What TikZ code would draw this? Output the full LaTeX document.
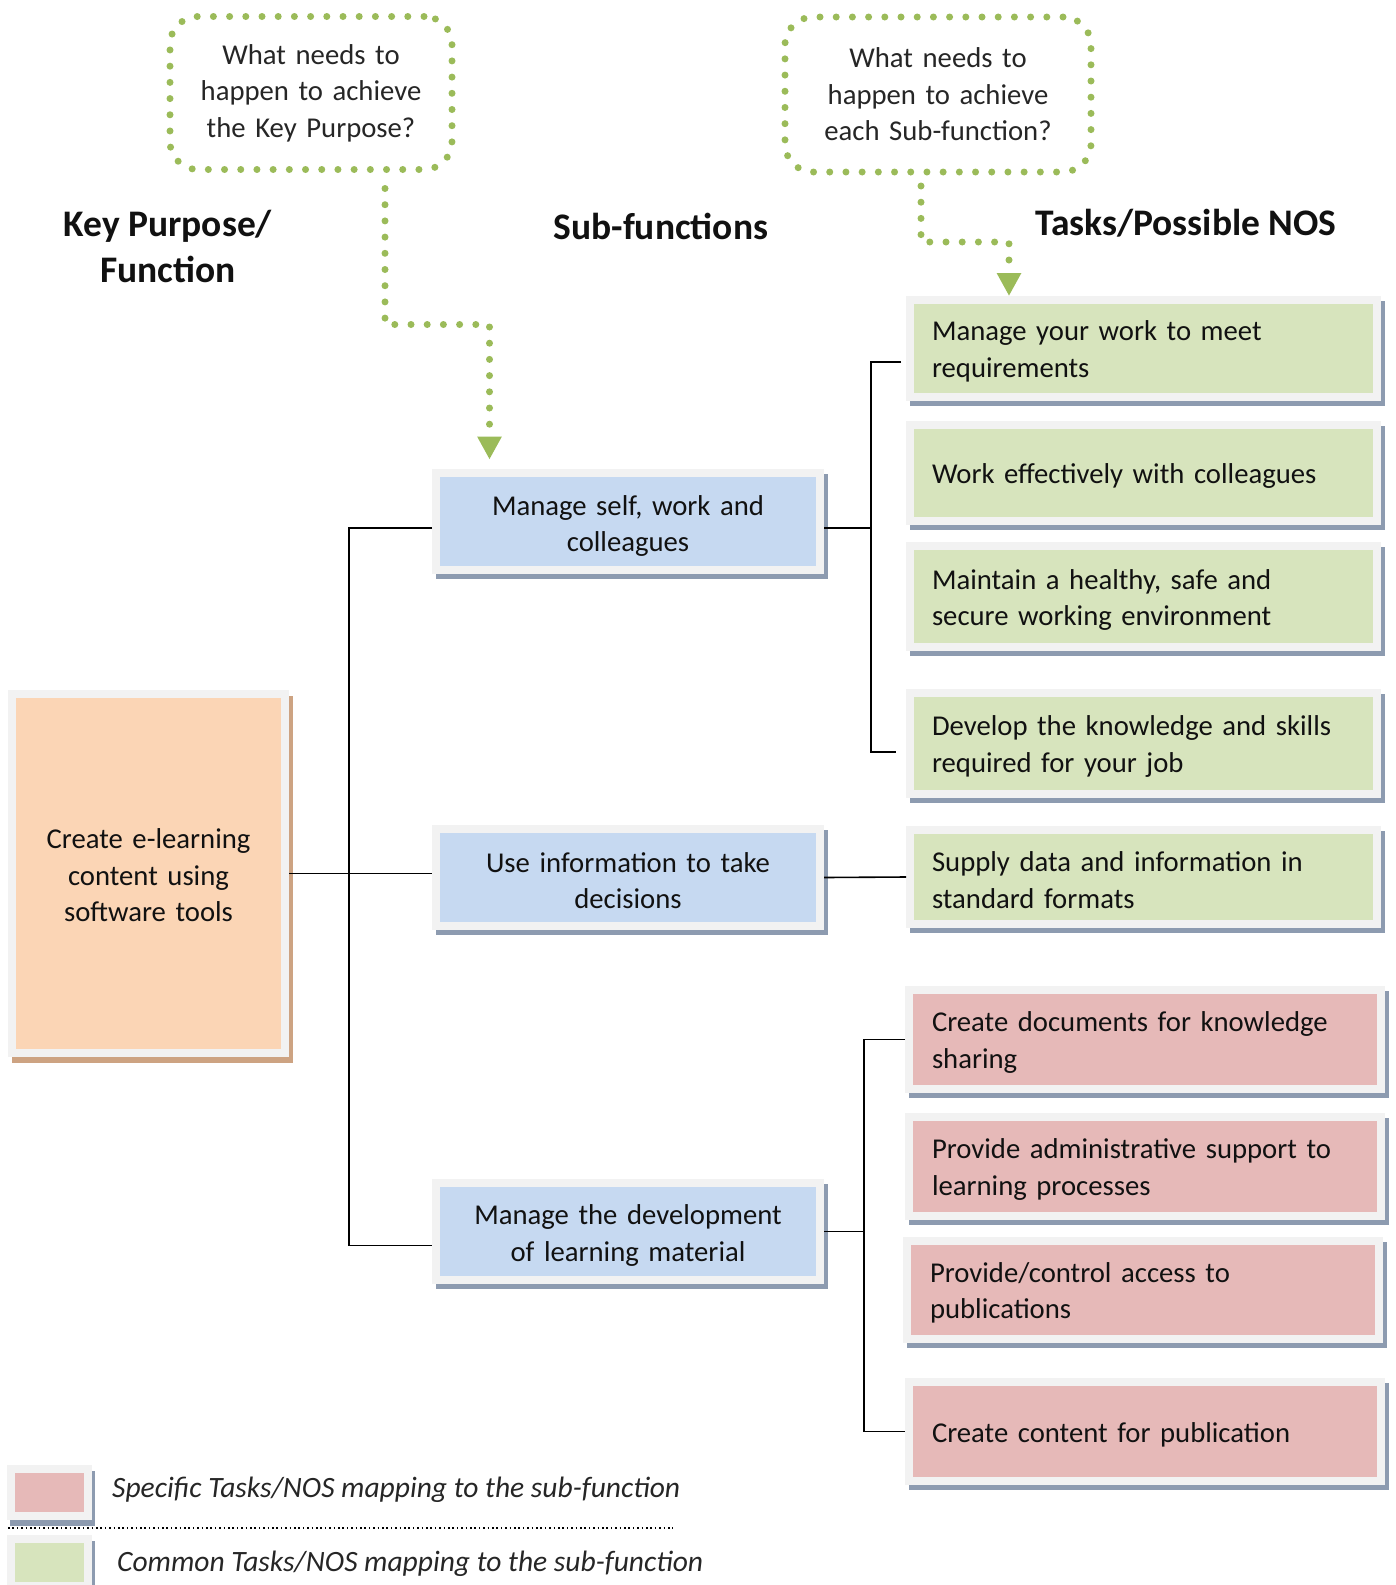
\documentclass[tikz,border=0pt]{standalone}
\usepackage{fontspec}
\setmainfont{Carlito}
\usetikzlibrary{arrows.meta,shadows}
\definecolor{cblue}{HTML}{C6D9F1}
\definecolor{cgreen}{HTML}{D7E4BD}
\definecolor{cred}{HTML}{E6B9B8}
\definecolor{corange}{HTML}{FBD5B5}
\definecolor{cframe}{HTML}{F2F2F2}
\definecolor{shblue}{HTML}{8D9BB0}
\definecolor{shtan}{HTML}{CDA382}
\definecolor{dotgreen}{HTML}{9BBB59}
\definecolor{txt}{HTML}{111111}
\definecolor{txtg}{HTML}{262626}
\newcommand\myBody{\fontsize{28.7}{36.4}\selectfont}
\newcommand\myHead{\fontsize{37.5}{46}\selectfont\bfseries}
\newcommand\myLeg{\fontsize{29.5}{36.4}\selectfont\itshape}
\newcommand\myLift[1]{\rule{0pt}{\dimexpr\fontcharht\font`l+#1\relax}}
\begin{document}
\begin{tikzpicture}[x=1pt,y=-1pt,
  cbox/.style={rectangle, fill=cframe, inner sep=0pt, outer sep=0pt, font=\myBody, text=txt},
  infill/.style={path picture={\fill[#1] ([shift={(8pt,-8pt)}]path picture bounding box.north west) rectangle ([shift={(-8pt,8pt)}]path picture bounding box.south east);}},
  bshadow/.style={general shadow={fill=#1, shadow xshift=4pt, shadow yshift=-5pt}},
  tdown/.style={execute at begin node={\myLift{#1}}},
  subbox/.style={cbox, infill=cblue, bshadow=shblue, minimum width=392pt, minimum height=105pt, text width=340pt, align=center, tdown=6pt},
  taskg/.style={cbox, infill=cgreen, bshadow=shblue, minimum width=475pt, inner xsep=26pt, text width=423pt, align=left, tdown=6pt},
  taskr/.style={cbox, infill=cred, bshadow=shblue, minimum width=480pt, inner xsep=27pt, text width=426pt, align=left, tdown=6pt},
  qbox/.style={rectangle, draw=dotgreen, line width=7pt, line cap=round, dash pattern=on 0pt off 16.2pt, rounded corners=28pt, inner sep=0pt, outer sep=0pt, text width=270pt, align=center, font=\myBody, text=txtg},
  dotconn/.style={draw=dotgreen, line width=7pt, line cap=round, dash pattern=on 0pt off 16.2pt, -{Triangle[width=23pt,length=23pt]}},
  conn/.style={draw=black, line width=1.6pt},
  head/.style={font=\myHead, text=txt, align=center, inner sep=0pt}
]
\useasboundingbox (0,0) rectangle (1395,1585);
\fill[white] (0,0) rectangle (1395,1585);

% callouts
\node[qbox, minimum width=282pt, minimum height=153pt] (q1) at (311,93) {What needs to\\happen to achieve\\the Key Purpose?};
\node[qbox, minimum width=306pt, minimum height=155pt] (q2) at (938,94.5) {What needs to\\happen to achieve\\each Sub-function?};

% headings
\node[head] (h1) at (168,246) {Key Purpose/\\Function};
\node[head] (h2) at (661,226) {Sub-functions};
\node[head] (h3) at (1186,223) {Tasks/Possible NOS};

% key purpose
\node[cbox, infill=corange, general shadow={fill=shtan, shadow xshift=4pt, shadow yshift=-6pt}, minimum width=281pt, minimum height=367pt, text width=240pt, align=center, tdown=4pt] (key) at (148.5,873.5) {Create e-learning\\content using\\software tools};

% sub-functions
\node[subbox, tdown=10pt] (sub1) at (628,521) {Manage self, work and\\colleagues};
\node[subbox, tdown=4pt] (sub2) at (628,877.5) {Use information to take\\decisions};
\node[subbox, tdown=8pt] (sub3) at (628,1231.5) {Manage the development\\of learning material};

% tasks
\node[taskg, minimum height=105pt] (g1) at (1143.5,348.5) {Manage your work to meet\\requirements};
\node[taskg, minimum height=104pt] (g2) at (1143.5,473) {Work effectively with colleagues};
\node[taskg, minimum height=109pt, tdown=7pt] (g3) at (1143.5,596.5) {Maintain a healthy, safe and\\secure working environment};
\node[taskg, minimum height=109pt, tdown=4pt] (g4) at (1143.5,743.5) {Develop the knowledge and skills\\required for your job};
\node[taskg, minimum height=102pt] (g5) at (1143.5,877) {Supply data and information in\\standard formats};
\node[taskr, minimum height=107pt] (r1) at (1145,1039.5) {Create documents for knowledge\\sharing};
\node[taskr, minimum height=107pt] (r2) at (1145,1166.5) {Provide administrative support to\\learning processes};
\node[taskr, minimum height=106pt] (r3) at (1143,1290) {Provide/control access to\\publications};
\node[taskr, minimum height=107pt] (r4) at (1145,1431.5) {Create content for publication};

% bus coordinates
\coordinate (busL) at (349,0);
\coordinate (busR1) at (871,0);
\coordinate (busR3) at (864,0);

% connectors
\draw[conn] (key.east) -- (key.east -| sub2.west);
\draw[conn] ([yshift=-7pt]sub1.west) -| ([yshift=-14pt]sub3.west -| busL) -- ([yshift=-14pt]sub3.west);
\draw[conn] ([yshift=-7pt]sub1.east) -- ([yshift=-7pt]sub1.east -| busR1);
\draw[conn] ([xshift=-5pt,yshift=-13.5pt]g1.west) -| ([yshift=-8.5pt]g4.west -| busR1) -- ([xshift=-10pt,yshift=-8.5pt]g4.west);
\draw[conn] (sub2.east) -- (g5.west);
\draw[conn] (sub3.east) -- (sub3.east -| busR3);
\draw[conn] (r1.west) -| (r4.west -| busR3) -- (r4.west);

% dotted arrows
\draw[dotconn] ([xshift=74pt,yshift=-19pt]q1.south) -- ++(0,136) -| ([xshift=-138.5pt,yshift=9pt]sub1.north);
\draw[dotconn] ([xshift=-17pt,yshift=-14pt]q2.south) -- ++(0,56) -| ([xshift=-134.5pt]g1.north);

% legend
\node[cbox, infill=cred, general shadow={fill=shblue, shadow xshift=3pt, shadow yshift=-6pt}, minimum width=85pt, minimum height=55pt] (lr) at (49.5,1492.5) {};
\node[cbox, infill=cgreen, general shadow={fill=shblue, shadow xshift=3pt, shadow yshift=-6pt}, minimum width=85pt, minimum height=55pt] (lg) at (49.5,1562.5) {};
\node[anchor=west, font=\myLeg, text=txtg, inner sep=0pt] (lt1) at (112,1490) {Specific Tasks/NOS mapping to the sub-function};
\node[anchor=west, font=\myLeg, text=txtg, inner sep=0pt] (lt2) at (117,1564) {Common Tasks/NOS mapping to the sub-function};
\draw[line width=1.6pt, dash pattern=on 1.6pt off 2.8pt] (8,1528) -- (673,1528);
\end{tikzpicture}
\end{document}
